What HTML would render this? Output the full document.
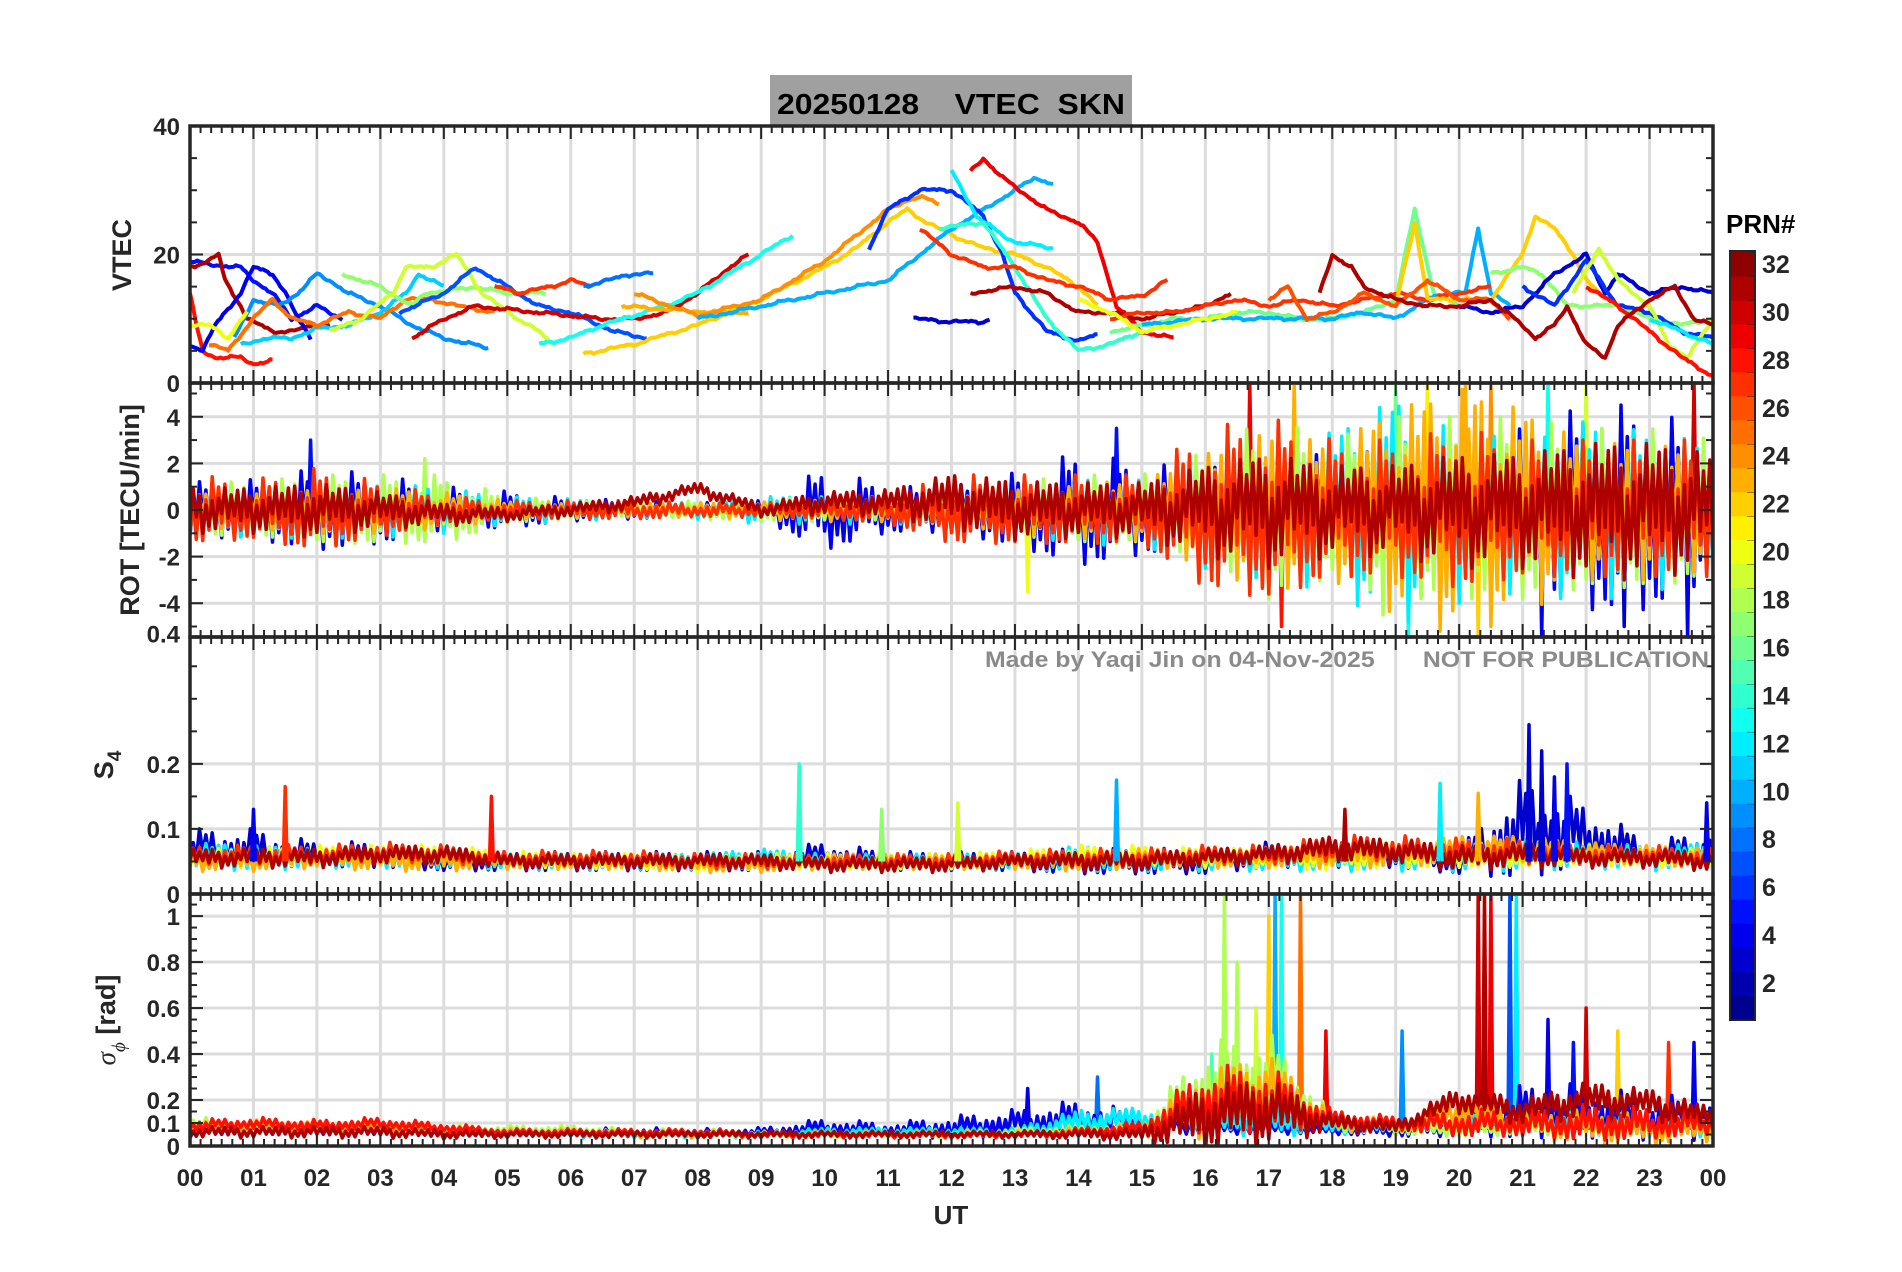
<!DOCTYPE html>
<html><head><meta charset="utf-8"><title>VTEC SKN 20250128</title>
<style>
html,body{margin:0;padding:0;background:#fff;}
svg{display:block;font-family:"Liberation Sans",Arial,sans-serif;}
</style></head>
<body>
<svg id="chart" width="1902" height="1272" viewBox="0 0 1902 1272" xmlns="http://www.w3.org/2000/svg">
<rect x="0" y="0" width="1902" height="1272" fill="#ffffff"/>
<rect x="770" y="75" width="362" height="51" fill="#a0a0a0"/>
<text x="777" y="114" textLength="348" lengthAdjust="spacingAndGlyphs" font-size="29" font-weight="bold" fill="#000" xml:space="preserve">20250128    VTEC  SKN</text>
<g id="plots"></g>
<text x="985" y="667" textLength="724" lengthAdjust="spacingAndGlyphs" font-size="22" font-weight="bold" fill="#8a8a8a" xml:space="preserve">Made by Yaqi Jin on 04-Nov-2025       NOT FOR PUBLICATION</text>
<text x="951" y="1224" text-anchor="middle" font-size="26" font-weight="bold" fill="#262626">UT</text>
<text transform="translate(131,255) rotate(-90)" text-anchor="middle" font-size="27" font-weight="bold" fill="#262626">VTEC</text>
<text transform="translate(139,510) rotate(-90)" text-anchor="middle" font-size="27" font-weight="bold" fill="#262626">ROT [TECU/min]</text>
<text transform="translate(113,765) rotate(-90)" text-anchor="middle" font-size="27" font-weight="bold" fill="#262626">S<tspan font-size="19" dy="8">4</tspan></text>
<text transform="translate(115,1020) rotate(-90)" text-anchor="middle" font-size="27" font-weight="bold" fill="#262626"><tspan font-family="Liberation Serif,serif" font-style="italic" font-weight="normal">σ</tspan><tspan font-size="19" dy="10" font-family="Liberation Serif,serif" font-style="italic" font-weight="normal">ϕ</tspan><tspan dy="-10"> [rad]</tspan></text>
<text x="1726" y="233" font-size="26" font-weight="bold" fill="#000">PRN#</text>
<g id="cbar"></g>
</svg>
<script>
// ---------- data ----------
const hourLabels = ["00","01","02","03","04","05","06","07","08","09","10","11","12","13","14","15","16","17","18","19","20","21","22","23","00"];
const cbarTicks = [2,4,6,8,10,12,14,16,18,20,22,24,26,28,30,32];
const vtecTicks = [0,20,40];
const rotTicks = [-4,-2,0,2,4];
const s4Ticks = [0,0.1,0.2,0.4];
const sigTicks = [0,0.1,0.2,0.4,0.6,0.8,1];

// VTEC tracks [hour, TEC]
const tecP05 = [[0,19],[0.3,18.5],[0.8,18],[1,16],[1.3,14],[1.6,10],[1.8,11],[2,12],[2.4,10]];
const tecP31a = [[0,18],[0.3,19],[0.45,20],[0.55,16],[0.8,12],[0.9,10],[1.1,9],[1.3,8],[1.6,8],[2,9],[2.2,9]];
const tecP28a = [[0,14],[0.1,9],[0.2,5],[0.4,4],[0.8,4],[1,3],[1.3,3.5]];
const tecP04 = [[0,6],[0.2,5],[0.4,9],[0.8,14],[1,18],[1.3,17],[1.5,14],[1.7,10],[1.9,7]];
const tecP09 = [[0.7,7],[1,13],[1.4,12],[1.7,14],[2,17],[2.2,16],[2.5,14],[3,12],[3.5,9],[4,7],[4.7,5.5]];
const tecP20a = [[0,9],[0.3,9],[0.6,7],[0.9,11]];
const tecP11 = [[0.8,6],[1.2,7],[1.6,7],[2,8.5],[2.5,9],[3,11],[3.4,14],[3.6,17],[4,15]];
const tecP25 = [[0.3,6],[0.6,5],[1,10],[1.3,13],[1.6,10],[2,9],[2.5,11],[3,10],[3.4,13],[3.8,13],[4.2,12],[4.8,11]];
const tecP17 = [[2.4,17],[3,15],[3.5,12],[3.7,14],[4.5,15],[5,14],[5.6,14]];
const tecP19a = [[2.2,8],[2.7,10],[3.2,14],[3.4,18],[3.8,18],[4.2,20],[4.4,17],[4.6,14],[5,11],[5.5,8],[5.7,6]];
const tecP07 = [[3.3,11],[4,14],[4.5,18],[5,15],[5.5,12],[6,11],[6.7,8],[7.2,7]];
const tecP27a = [[4.8,15],[5.2,14],[5.7,15],[6,16],[6.3,15]];
const tecP30 = [[3.5,7],[4,10],[4.5,12],[5,11.5],[5.5,11],[6,10.5],[6.5,10],[7,10],[7.5,11],[8,14],[8.5,18],[8.8,20]];
const tecP13 = [[5.5,6],[6,7],[6.5,9],[7,10.5],[7.5,12],[8,14],[8.5,17],[9,20],[9.5,23]];
const tecP22 = [[6.2,4.5],[7,6],[8,9],[9,13],[10,18],[10.5,21],[11,25],[11.3,27],[11.6,25],[12,23],[12.5,21],[13,20],[13.5,18],[14,15],[14.3,12]];
const tecP23 = [[6.8,12],[7.5,11.5],[8.3,11],[8.8,11]];
const tecP24 = [[7,14],[8,10.5],[9,13],[10,19],[10.5,23],[11,27],[11.3,28.5],[11.5,29],[11.8,28]];
const tecP08 = [[6.2,15],[6.6,16],[7,17],[7.3,17]];
const tecP10 = [[8,10],[8.5,11],[9,12],[9.5,13],[10,14],[11,16],[11.5,20],[12,24],[12.5,27],[13,30],[13.3,32],[13.6,31]];
const tecP06 = [[10.7,21],[11,27],[11.5,30],[12,30],[12.5,26],[12.8,20],[13,14],[13.5,8],[14,6.5],[14.3,7.5]];
const tecP12 = [[12,33],[12.4,26],[12.8,23],[13,22],[13.6,21]];
const tecP14 = [[11.8,24],[12.5,25],[13,18],[13.5,10],[14,5],[14.5,6],[15,8]];
const tecP29 = [[12.3,33],[12.5,35],[12.8,32],[13.5,27],[14,25],[14.3,22],[14.6,12],[15,8],[15.5,7]];
const tecP27b = [[11.5,24],[12,20],[12.5,18],[13,18],[13.5,16],[14,15],[14.5,13],[15,13.5],[15.4,16]];
const tecP31b = [[12.3,14],[13,15],[13.5,14],[14,11],[14.5,11],[15,10],[15.5,11],[16,12],[16.4,14]];
const tecP03c = [[11.4,10],[12,9.5],[12.5,9.5],[12.6,10]];
const tecP27c = [[14.5,10],[15,11],[15.5,11],[16,12],[16.5,13],[17,12],[17.5,13],[18,12],[18.5,13],[19,14],[19.5,13],[20,14],[20.5,15]];
const tecP16 = [[14.5,8],[15,9],[15.5,10],[16,10],[16.5,11],[17,11],[17.5,10],[18,10],[18.5,11],[19,13],[19.3,27],[19.6,14],[20,12]];
const tecP10b = [[15,9],[16,10],[17,10],[18,10],[18.5,11],[19,10],[19.5,13],[19.8,14],[20.1,14],[20.3,24],[20.5,14],[20.8,12]];
const tecP22b = [[19,12],[19.3,25],[19.5,13],[20.5,13],[21,20],[21.2,26],[21.5,24],[21.8,20],[22,16],[22.3,13]];
const tecP31c = [[17.8,14],[18,20],[18.3,18],[18.5,15],[19,13],[19.5,12],[20,12],[20.5,13],[21,9],[21.2,7],[21.5,9],[21.7,12],[22,6],[22.3,4],[22.5,9],[23,13],[23.4,15],[23.7,10],[24,9]];
const tecP03 = [[20,12],[20.5,11],[21,12],[21.5,17],[22,20],[22.3,14],[22.5,17],[23,14],[23.5,15],[24,14]];
const tecP06b = [[21,15],[21.5,12],[22,19],[22.5,12],[23,11],[23.5,8],[24,7]];
const tecP19b = [[21.8,14],[22.2,21],[22.5,16],[23,12],[23.3,6],[23.6,4],[24,10]];
const tecP28b = [[22,15],[22.5,12],[23,8],[23.5,4],[24,1]];
const tecP12b = [[23,10],[23.5,8],[24,6]];
const tecP17b = [[20.5,17],[21,18],[21.3,17],[21.7,12],[22.5,12],[23,10],[23.5,9],[24,10]];
const tecP26 = [[17,13],[17.3,15],[17.6,10],[18,11],[18.5,14],[19,12],[19.5,16],[20,13],[20.5,13],[20.8,10]];
const tecP20b = [[14,13],[14.5,11],[15,8],[15.5,9],[16,10],[16.5,11]];
const tecTrackList = [[5,tecP05],[31,tecP31a],[28,tecP28a],[4,tecP04],[9,tecP09],[20,tecP20a],[11,tecP11],[25,tecP25],[17,tecP17],[19,tecP19a],[7,tecP07],[27,tecP27a],[30,tecP30],[13,tecP13],[23,tecP23],[22,tecP22],[24,tecP24],[8,tecP08],[10,tecP10],[6,tecP06],[12,tecP12],[14,tecP14],[29,tecP29],[27,tecP27b],[31,tecP31b],[3,tecP03c],[16,tecP16],[10,tecP10b],[27,tecP27c],[22,tecP22b],[26,tecP26],[17,tecP17b],[3,tecP03],[6,tecP06b],[19,tecP19b],[12,tecP12b],[20,tecP20b],[28,tecP28b],[31,tecP31c]];

// noise pattern (relative deviations)
const noiseShape = [0.9,0.3,0.6,1,0.2,0.7,0.4,0.8,0.5,0.15,0.95,0.35,0.65,0.25,0.85,0.45];
const tecJitter = 0.5;

// ROT envelopes per hour (0..24)
const rotPrns = [4,12,18,23,27,31];
const rotAmp04 = [1.2,1.3,1.8,1.5,1,0.8,0.5,0.4,0.3,0.4,1.8,1,1,1.6,2.5,2,1.8,2,2.5,2.5,3,3.5,4.5,4.5,3];
const rotAmp12 = [1,1.2,1.2,1.2,1,0.6,0.5,0.3,0.4,0.6,0.6,0.6,0.6,1,1.5,1.5,2.5,3,3.5,5,4,3.5,4,3.5,3];
const rotAmp18 = [1.2,1.2,1.5,1.5,1.5,0.6,0.4,0.3,0.4,0.5,0.5,0.5,0.6,1.2,1.5,1.5,2.5,4,3,4,4,4,3.5,3.5,3];
const rotAmp23 = [0.8,0.8,1,1,0.8,0.4,0.3,0.3,0.3,0.4,0.5,0.5,0.6,1,1.2,1.3,2.5,3.5,3,4.5,5.5,4.5,3,3,2.5];
const rotAmp27 = [1.5,1.3,1.8,1.2,0.6,0.4,0.4,0.4,0.3,0.3,0.4,0.6,1.5,1.5,1.5,1.5,3.5,4,3,3,3.5,3,3,3,3];
const rotAmp31 = [1,1,1.2,0.8,0.5,0.3,0.3,0.3,0.3,0.3,0.5,0.6,1.2,1.3,1.2,1.2,2,2.5,2,2,2.5,2.5,3,3,2.5];
const rotCenter31 = [0,0,0,0,-0.2,-0.2,0,0.3,0.9,0,0.3,0.3,0.4,0,0,0,0,0,0,0,0,0,0,0,0];
const rotCenterBase = [0,0,0,0,0,0,0,0,0,0,0,0,0,0,0,0,0,0,0,0,0,0,0,0,0];
const rotSpikes = [[16.7,5.5,29],[17.2,-5,28],[17.4,5.5,23],[19,5.5,16],[19.2,-5.5,13],[19.5,5.5,21],[20.1,5.5,23],[20.3,-5.5,22],[20.5,5.5,24],[21.3,-5.5,4],[21.4,5.5,13],[22,5.5,19],[23.7,5.5,30],[23.6,-5.5,4],[1.9,3,5],[3.7,2.2,18],[14.6,3.5,5],[13.2,-3.5,20],[18.8,-4.5,18],[22.6,-5,3]];

// S4 envelopes per hour
const s4Prns = [3,12,20,23,27,31];
const s4Center03 = [0.07,0.07,0.06,0.06,0.05,0.05,0.05,0.05,0.05,0.05,0.06,0.05,0.05,0.05,0.05,0.05,0.05,0.06,0.06,0.06,0.05,0.1,0.09,0.06,0.07];
const s4Amp03 = [0.03,0.03,0.02,0.02,0.015,0.015,0.015,0.015,0.015,0.015,0.02,0.015,0.015,0.015,0.02,0.02,0.02,0.02,0.02,0.02,0.02,0.08,0.05,0.02,0.03];
const s4Center12 = [0.06,0.055,0.055,0.055,0.055,0.05,0.05,0.05,0.05,0.055,0.05,0.05,0.05,0.05,0.055,0.05,0.05,0.05,0.05,0.055,0.055,0.06,0.06,0.055,0.06];
const s4Amp12 = [0.02,0.02,0.015,0.015,0.015,0.012,0.012,0.012,0.012,0.015,0.012,0.012,0.012,0.012,0.02,0.015,0.015,0.015,0.015,0.02,0.02,0.025,0.02,0.02,0.02];
const s4Center20 = [0.055,0.055,0.06,0.06,0.06,0.055,0.05,0.05,0.045,0.05,0.05,0.05,0.05,0.055,0.06,0.06,0.055,0.055,0.055,0.06,0.06,0.06,0.06,0.055,0.055];
const s4Center23 = [0.05,0.05,0.055,0.05,0.05,0.05,0.05,0.05,0.045,0.045,0.05,0.05,0.05,0.05,0.05,0.055,0.055,0.055,0.06,0.06,0.07,0.07,0.065,0.06,0.055];
const s4Center27 = [0.06,0.06,0.06,0.065,0.06,0.055,0.055,0.055,0.05,0.05,0.05,0.05,0.05,0.055,0.055,0.055,0.06,0.06,0.07,0.07,0.065,0.065,0.06,0.06,0.055];
const s4Center31 = [0.055,0.055,0.055,0.06,0.06,0.05,0.05,0.05,0.05,0.05,0.045,0.045,0.045,0.05,0.05,0.05,0.055,0.06,0.07,0.065,0.055,0.06,0.055,0.055,0.05];
const s4AmpBase = [0.015,0.015,0.015,0.015,0.015,0.012,0.012,0.012,0.012,0.012,0.012,0.012,0.012,0.012,0.015,0.015,0.015,0.015,0.02,0.02,0.02,0.02,0.015,0.015,0.015];
const s4Spikes = [[1.5,0.165,27],[4.75,0.15,28],[9.6,0.2,14],[14.6,0.175,10],[19.7,0.17,12],[20.3,0.155,23],[21.1,0.26,3],[21.3,0.22,3],[21.7,0.2,5],[21.5,0.18,4],[23.9,0.14,4],[10.9,0.13,17],[12.1,0.14,19],[18.2,0.13,31],[1,0.13,4]];

// sigma-phi envelopes per hour
const sigPrns = [4,12,18,23,28,31];
const sigCenter04 = [0.07,0.07,0.07,0.07,0.06,0.06,0.06,0.06,0.06,0.06,0.08,0.07,0.08,0.1,0.12,0.1,0.08,0.08,0.07,0.07,0.08,0.15,0.15,0.12,0.12];
const sigAmp04 = [0.02,0.02,0.02,0.02,0.015,0.015,0.015,0.02,0.015,0.02,0.04,0.03,0.05,0.06,0.08,0.05,0.03,0.03,0.02,0.03,0.04,0.12,0.12,0.1,0.1];
const sigCenter12 = [0.08,0.07,0.07,0.07,0.06,0.06,0.05,0.05,0.05,0.05,0.06,0.06,0.06,0.06,0.1,0.12,0.09,0.1,0.08,0.08,0.1,0.1,0.1,0.09,0.08];
const sigAmp12 = [0.03,0.02,0.02,0.02,0.015,0.015,0.015,0.015,0.015,0.015,0.02,0.02,0.02,0.02,0.06,0.05,0.04,0.06,0.03,0.03,0.05,0.05,0.05,0.05,0.04];
const sigCenter18 = [0.1,0.08,0.08,0.08,0.07,0.07,0.07,0.06,0.06,0.05,0.05,0.05,0.05,0.06,0.07,0.08,0.25,0.3,0.1,0.08,0.07,0.08,0.08,0.08,0.1];
const sigAmp18 = [0.03,0.02,0.02,0.02,0.02,0.02,0.02,0.015,0.015,0.015,0.015,0.015,0.015,0.02,0.02,0.02,0.2,0.2,0.04,0.03,0.03,0.03,0.03,0.03,0.04];
const sigCenter23 = [0.08,0.09,0.08,0.08,0.07,0.06,0.06,0.05,0.05,0.05,0.05,0.05,0.05,0.05,0.06,0.07,0.18,0.25,0.1,0.09,0.15,0.1,0.08,0.07,0.07];
const sigCenter28 = [0.09,0.1,0.09,0.1,0.08,0.06,0.06,0.06,0.06,0.05,0.05,0.05,0.05,0.05,0.06,0.08,0.2,0.2,0.12,0.1,0.1,0.1,0.1,0.1,0.1];
const sigCenter31 = [0.06,0.06,0.06,0.06,0.05,0.05,0.05,0.05,0.05,0.05,0.05,0.05,0.05,0.05,0.05,0.05,0.12,0.15,0.1,0.08,0.2,0.15,0.2,0.18,0.12];
const sigAmpBase = [0.025,0.025,0.025,0.025,0.02,0.015,0.015,0.015,0.015,0.015,0.015,0.015,0.015,0.015,0.02,0.03,0.15,0.15,0.04,0.03,0.06,0.06,0.08,0.07,0.05];
const sigSpikes = [[16.3,1.1,18],[16.5,0.8,18],[16.8,0.6,19],[17,1.0,22],[17.1,1.1,10],[17.2,1.1,13],[17.5,1.1,25],[17.9,0.5,29],[20.3,1.1,30],[20.4,1.1,31],[20.5,1.1,29],[20.8,1.1,7],[20.9,1.1,12],[19.1,0.5,9],[21.4,0.55,4],[22,0.6,30],[21.8,0.45,5],[22.5,0.5,22],[23.7,0.45,4],[23.3,0.45,27],[13.2,0.25,4],[14.3,0.3,8],[16.1,0.4,15]];

// ---------- layout ----------
const NS = "http://www.w3.org/2000/svg";
const X0 = 190, X1 = 1713;
const panels = [
  {name:"vtec", top:126, bottom:383, min:0, max:40, ticks:vtecTicks, minor:5},
  {name:"rot", top:383, bottom:637, min:-5.45, max:5.45, ticks:rotTicks, minor:1},
  {name:"s4", top:637, bottom:894, min:0, max:0.395, ticks:s4Ticks, minor:0.05},
  {name:"sigma", top:894, bottom:1146, min:0, max:1.096, ticks:sigTicks, minor:0.05}
];
function xs(h){ return X0 + h*(X1-X0)/24; }
function ys(p,v){ return p.bottom - (v-p.min)/(p.max-p.min)*(p.bottom-p.top); }
function jet(prn){
  const v=(prn-0.5)/32;
  const c=x=>Math.round(255*Math.max(0,Math.min(1,x)));
  return "rgb("+c(1.5-Math.abs(4*v-3))+","+c(1.5-Math.abs(4*v-2))+","+c(1.5-Math.abs(4*v-1))+")";
}
function mk(tag, attrs, parent){
  const e=document.createElementNS(NS,tag);
  for(const k in attrs) e.setAttribute(k,attrs[k]);
  parent.appendChild(e); return e;
}
function interp(arr,h){
  const i=Math.min(23,Math.floor(h)), f=h-i;
  return arr[i]*(1-f)+arr[i+1]*f;
}
const root=document.getElementById("plots");
const defs=mk("defs",{},root);

panels.forEach((p,pi)=>{
  const cp=mk("clipPath",{id:"clip"+pi},defs);
  mk("rect",{x:X0,y:p.top,width:X1-X0,height:p.bottom-p.top},cp);
  const g=mk("g",{},root);
  
  
  const grid=mk("g",{stroke:"#dcdcdc","stroke-width":3},g);
  
  
  for(let h=1;h<24;h++) mk("line",{x1:xs(h),x2:xs(h),y1:p.top,y2:p.bottom},grid);
  p.ticks.forEach(t=>{ if(t>p.min && t<p.max) mk("line",{x1:X0,x2:X1,y1:ys(p,t),y2:ys(p,t)},grid); });
  const sg=mk("g",{"clip-path":"url(#clip"+pi+")",fill:"none","stroke-width":4,"stroke-linejoin":"round"},g);
  
  
  p.sg=sg; p.g=g;
});

function addPath(p,d,prn,name,w){
  const e=mk("path",{d:d,stroke:jet(prn)},p.sg);
  if(w) e.setAttribute("stroke-width",w);
  
  
}
// VTEC tracks: resampled with small jitter from noiseShape
tecTrackList.forEach(([prn,pts],k)=>{
  let d="", n=0;
  for(let i=0;i<pts.length;i++){
    const a=pts[i], b=pts[i+1]||pts[i];
    const steps=i<pts.length-1?Math.max(1,Math.round((b[0]-a[0])/0.04)):1;
    for(let s=0;s<steps;s++,n++){
      const f=s/steps, h=a[0]+(b[0]-a[0])*f;
      const v=a[1]+(b[1]-a[1])*f+tecJitter*(noiseShape[(n+k)%noiseShape.length]-0.5)*(n%2?1:-1);
      d+=(n?"L":"M")+xs(h).toFixed(1)+","+ys(panels[0],v).toFixed(1);
    }
  }
  addPath(panels[0],d,prn,"vtec-track-prn"+prn);
});
function noiseLayer(p,prn,center,amp,off,name,dt){
  let d="", i=0;
  for(let h=0;h<=24.0001;h+=dt,i++){
    const s=noiseShape[(i+off)%noiseShape.length]*(i%2?1:-1);
    const v=interp(center,h)+interp(amp,h)*s;
    d+=(i?"L":"M")+xs(h).toFixed(1)+","+ys(p,v).toFixed(1);
  }
  addPath(p,d,prn,name,3.5);
}
function spikes(p,list,base,name){
  list.forEach(([h,v,prn])=>{
    const d="M"+xs(h-0.03).toFixed(1)+","+ys(p,base)+"L"+xs(h).toFixed(1)+","+ys(p,v).toFixed(1)+"L"+xs(h+0.03).toFixed(1)+","+ys(p,base);
    addPath(p,d,prn,name+"-prn"+prn,3.5);
  });
}
const rotAmps=[rotAmp04,rotAmp12,rotAmp18,rotAmp23,rotAmp27,rotAmp31];
spikes(panels[1],rotSpikes,0,"rot-spike");
rotPrns.forEach((prn,k)=>noiseLayer(panels[1],prn,k==5?rotCenter31:rotCenterBase,rotAmps[k],k*3,"rot-series-prn"+prn,0.05));
const s4Centers=[s4Center03,s4Center12,s4Center20,s4Center23,s4Center27,s4Center31];
const s4Amps=[s4Amp03,s4Amp12,s4AmpBase,s4AmpBase,s4AmpBase,s4AmpBase];
s4Prns.forEach((prn,k)=>noiseLayer(panels[2],prn,s4Centers[k],s4Amps[k],k*5,"s4-series-prn"+prn,0.05));
spikes(panels[2],s4Spikes,0.05,"s4-spike");
const sigCenters=[sigCenter04,sigCenter12,sigCenter18,sigCenter23,sigCenter28,sigCenter31];
const sigAmps=[sigAmp04,sigAmp12,sigAmp18,sigAmpBase,sigAmpBase,sigAmpBase];
spikes(panels[3],sigSpikes,0.07,"sigma-spike");
sigPrns.forEach((prn,k)=>noiseLayer(panels[3],prn,sigCenters[k],sigAmps[k],k*7,"sigma-series-prn"+prn,0.05));

panels.forEach((p,pi)=>{
  const ax=mk("g",{stroke:"#262626","stroke-width":2},p.g);
  
  
  for(let k=0;k<=144;k++){
    const x=xs(k/6), L=(k%6==0)?13:7;
    mk("line",{x1:x,x2:x,y1:p.top,y2:p.top+L},ax);
    mk("line",{x1:x,x2:x,y1:p.bottom,y2:p.bottom-L},ax);
  }
  for(let v=p.min<0?-5:0; v<=p.max+1e-9; v+=p.minor){
    const vv=Math.round(v*1000)/1000;
    if(vv<p.min) continue;
    const y=ys(p,vv), maj=p.ticks.indexOf(vv)>=0, L=maj?13:7;
    mk("line",{x1:X0,x2:X0+L,y1:y,y2:y},ax);
    mk("line",{x1:X1,x2:X1-L,y1:y,y2:y},ax);
  }
  mk("rect",{x:X0,y:p.top,width:X1-X0,height:p.bottom-p.top,fill:"none","stroke-width":3.5},ax);
  p.ticks.forEach(t=>{
    const tx=mk("text",{x:180,y:ys(p,t)+9,"text-anchor":"end","font-size":24,"font-weight":"bold",fill:"#262626"},p.g);
    tx.textContent=String(t);
    
    
  });
});
hourLabels.forEach((lab,i)=>{
  const t=mk("text",{x:xs(i),y:1186,"text-anchor":"middle","font-size":24,"font-weight":"bold",fill:"#262626"},root);
  t.textContent=lab;
  
  
});
const cb=document.getElementById("cbar");


const CT=252, CB=1019, CX=1731, CW=23;
mk("rect",{x:CX-2,y:CT-2,width:CW+4,height:CB-CT+4,fill:"#262626"},cb);
for(let prn=1;prn<=32;prn++){
  const h=(CB-CT)/32, y=CB-prn*h;
  const r=mk("rect",{x:CX,y:y.toFixed(1),width:CW,height:(h+0.5).toFixed(1),fill:jet(prn)},cb);
  
  
  mk("line",{x1:CX+CW-7,x2:CX+CW,y1:y,y2:y,stroke:"#262626","stroke-width":2},cb);
}
cbarTicks.forEach(v=>{
  const y=CB-(v-0.5)/32*(CB-CT);
  const t=mk("text",{x:1762,y:y+9,"font-size":25,"font-weight":"bold",fill:"#262626"},cb);
  t.textContent=String(v);
  
  
});
</script>
</body></html>
